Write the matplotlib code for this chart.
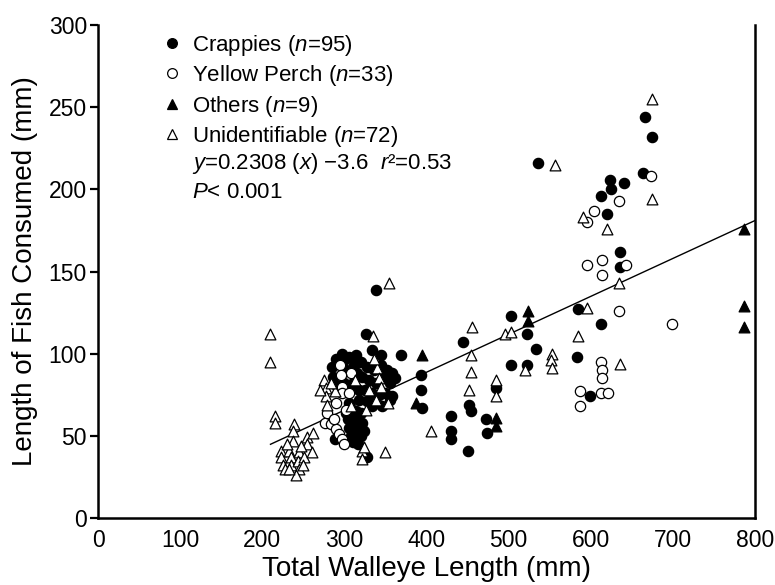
import numpy as np
import matplotlib.pyplot as plt

plt.rcParams['font.family'] = ['Liberation Sans', 'DejaVu Sans']
plt.rcParams['mathtext.fontset'] = 'custom'
plt.rcParams['mathtext.rm'] = 'Liberation Sans'
plt.rcParams['mathtext.it'] = 'Liberation Sans:italic'

# crappies (filled circles)
crappie_x = [536, 666, 674, 664, 624, 641, 625, 613, 620, 636, 636, 585, 613, 583, 599,
             503, 522, 444, 452, 454, 430, 430, 430, 451, 484, 472, 474, 503, 522, 533,
             338, 326, 297, 314, 334, 369, 345, 285, 393, 393, 394, 288, 328, 333,
             320, 328, 336, 345, 352, 358, 322, 330, 338, 348, 356, 362, 325, 333, 342,
             350, 358, 318, 327, 336, 346, 355,
             302, 308, 314, 320, 304, 310, 316, 322, 306, 312, 318, 324, 308, 314, 320,
             310, 316, 305,
             290, 300, 306, 312, 286, 302, 315, 290, 300, 310, 305, 318]
crappie_y = [216, 244, 232, 210, 206, 204, 200, 196, 185, 162, 153, 127, 118, 98, 74,
             123, 112, 107, 69, 65, 62, 53, 48, 41, 79, 60, 52, 93, 93, 103,
             139, 112, 100, 99, 102, 99, 99, 92, 87, 78, 67, 48, 37, 68,
             95, 92, 90, 93, 90, 88, 86, 84, 82, 86, 82, 85, 78, 76, 75,
             76, 74, 72, 71, 70, 68, 72,
             64, 66, 65, 64, 60, 59, 60, 58, 55, 54, 55, 53, 50, 49, 50,
             46, 45, 70,
             97, 96, 98, 93, 86, 90, 88, 81, 82, 82, 78, 78]

# yellow perch (open circles)
perch_x = [673, 634, 604, 595, 595, 614, 614, 643, 634, 699, 612, 614, 614, 587, 613, 621, 587,
           295, 308, 296, 297, 297, 306, 290, 276, 279, 284, 290, 294, 297, 300, 287, 302]
perch_y = [208, 193, 187, 180, 154, 157, 148, 154, 126, 118, 95, 90, 85, 77, 76, 76, 68,
           93, 88, 87, 80, 76, 76, 70, 58, 64, 57, 54, 51, 48, 45, 60, 66]

# others (filled triangles)
others_x = [394, 387, 524, 523, 484, 485, 786, 786, 787]
others_y = [99, 70, 126, 120, 61, 56, 176, 129, 116]

# unidentifiable (open triangles)
unid_x = [675, 674, 590, 620, 634, 596, 585, 635, 556,
          455, 454, 454, 452, 484, 484, 496, 503, 520, 553, 552, 553,
          405, 354, 335, 350, 322, 322, 324, 353, 340, 342, 345, 339,
          210, 209, 215, 215, 239, 238, 255, 255, 238, 223, 223, 225, 233, 235, 235,
          245, 243, 245, 251, 250, 241, 228, 232,
          275, 278, 277, 279, 308, 336, 288, 284, 326, 230, 247, 260, 262, 270, 313, 330]
unid_y = [255, 194, 183, 176, 143, 128, 111, 94, 215,
          116, 99, 89, 78, 84, 74, 112, 113, 90, 100, 96, 91,
          53, 143, 111, 40, 41, 36, 43, 70, 91, 85, 80, 72,
          112, 95, 62, 58, 57, 53, 49, 45, 47, 41, 37, 32, 41, 37, 32,
          40, 35, 30, 37, 32, 26, 30, 30,
          84, 79, 74, 69, 68, 97, 77, 82, 66, 45, 44, 40, 52, 78, 84, 78]

slope = 0.2308
intercept = -3.6
fit_x = [210, 800]

fig = plt.figure(figsize=(7.75, 5.85), dpi=100)
ax = fig.add_axes([0.1265, 0.1145, 0.8477, 0.8427])

ax.scatter(crappie_x, crappie_y, s=55, c='black', marker='o', linewidths=0.9, zorder=3)
ax.scatter(perch_x, perch_y, s=55, facecolors='white', edgecolors='black', marker='o', linewidths=0.9, zorder=3)
ax.scatter(others_x, others_y, s=60, c='black', marker='^', linewidths=0.9, zorder=3)
ax.scatter(unid_x, unid_y, s=60, facecolors='white', edgecolors='black', marker='^', linewidths=0.9, zorder=3)

fx = np.array(fit_x)
ax.plot(fx, slope * fx + intercept, color='black', lw=1.0, zorder=2)

ax.set_xlim(0, 800)
ax.set_ylim(0, 300)
ax.set_xticks(range(0, 801, 100))
ax.set_yticks(range(0, 301, 50))
ax.spines['top'].set_visible(False)
for s in ['left', 'bottom', 'right']:
    ax.spines[s].set_linewidth(1.8)
ax.tick_params(axis='y', direction='out', length=6, width=1.6, labelsize=16.5, pad=2)
ax.tick_params(axis='x', direction='in', length=0, labelsize=16.5, pad=8)

ax.set_xlabel('Total Walleye Length (mm)', fontsize=20, labelpad=3)
ax.set_ylabel('Length of Fish Consumed (mm)', fontsize=20, labelpad=8)

# legend
leg_items = [
    ('o', 'black', 'Crappies ($\\it{n}$=95)'),
    ('o', 'white', 'Yellow Perch ($\\it{n}$=33)'),
    ('^', 'black', 'Others ($\\it{n}$=9)'),
    ('^', 'white', 'Unidentifiable ($\\it{n}$=72)'),
]
handles = [plt.Line2D([], [], marker=m, linestyle='', markersize=7, markerfacecolor=fc,
                      markeredgecolor='black', markeredgewidth=0.9) for m, fc, _ in leg_items]
labels = [l for _, _, l in leg_items]
ax.legend(handles, labels, loc='upper left', bbox_to_anchor=(0.096, 0.984), frameon=False,
          fontsize=16, handletextpad=0.4, labelspacing=0.24, borderpad=0, borderaxespad=0,
          handlelength=1.0)

ax.text(0.143, 0.720, '$\\it{y}$=0.2308 ($\\it{x}$) \u22123.6  $\\it{r}$\u00b2=0.53',
        transform=ax.transAxes, fontsize=16, va='center')
ax.text(0.143, 0.660, '$\\it{P}$< 0.001', transform=ax.transAxes, fontsize=16, va='center')

fig.savefig('out.png', dpi=100)
